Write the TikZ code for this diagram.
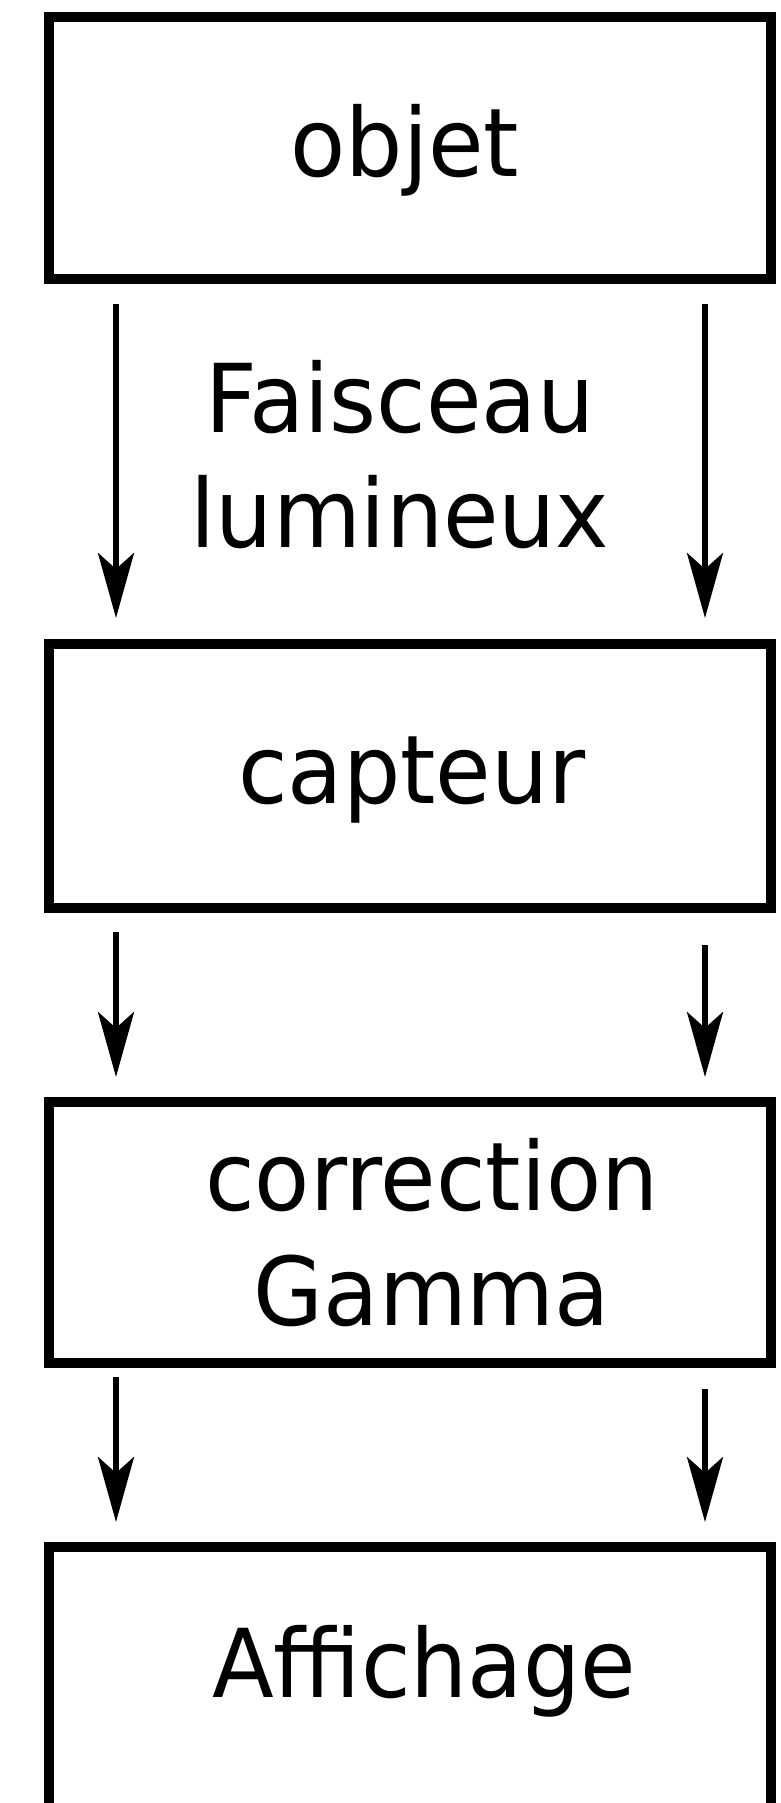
\documentclass[tikz,border=0pt]{standalone}
\usepackage{fontspec}
\setmainfont{DejaVu Sans}[FakeStretch=0.95]
\usetikzlibrary{arrows.meta}
\begin{document}
\begin{tikzpicture}[x=1pt,y=-1pt,
  box/.style={draw=black, line width=10pt, minimum width=722pt, inner sep=0pt, outer sep=0pt, fill=white},
  lbl/.style={font=\fontsize{95}{115}\selectfont, inner sep=0pt, outer sep=0pt, align=center, anchor=base},
  arr/.style={line width=5.5pt, -{Stealth[length=65pt,width=36pt,inset=16pt]}}]
\useasboundingbox (0,0) rectangle (781,1803);
\begin{scope}
\clip (0,0) rectangle (781,1803);
\node[box, minimum height=262pt] (objet) at (410,148) {};
\node[box, minimum height=264pt] (capteur) at (410,776) {};
\node[box, minimum height=261pt] (corr) at (410,1232.5) {};
\node[box, minimum height=262pt] (aff) at (410,1678) {};
\end{scope}
\node[lbl] (tobjet) at (405,177) {objet};
\node[lbl] (tfaisc) at (400,547) {Faisceau\\lumineux};
\node[lbl] (tcapt) at (412,803) {capteur};
\node[lbl] (tcorr) at (432,1325) {correction\\Gamma};
\node[lbl] (taff) at (424,1697) {Affichage};
\draw[arr] ([shift={(67,25)}]objet.south west) -- ([shift={(67,-26)}]capteur.north west);
\draw[arr] ([shift={(-66,25)}]objet.south east) -- ([shift={(-66,-26)}]capteur.north east);
\draw[arr] ([shift={(67,24)}]capteur.south west) -- ([shift={(67,-25)}]corr.north west);
\draw[arr] ([shift={(-66,37)}]capteur.south east) -- ([shift={(-66,-25)}]corr.north east);
\draw[arr] ([shift={(67,14)}]corr.south west) -- ([shift={(67,-25)}]aff.north west);
\draw[arr] ([shift={(-66,26)}]corr.south east) -- ([shift={(-66,-25)}]aff.north east);
\end{tikzpicture}
\end{document}
